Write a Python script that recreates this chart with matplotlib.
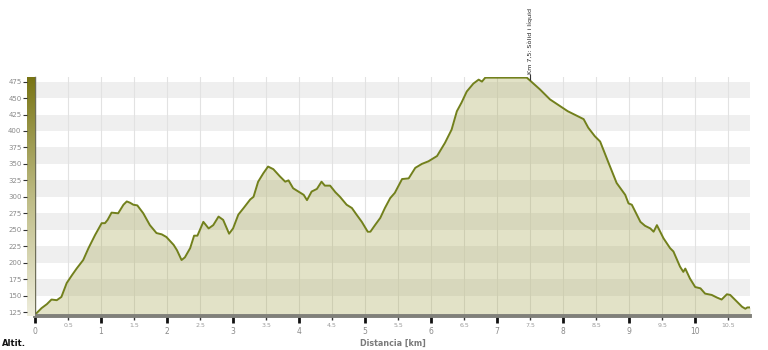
import matplotlib
matplotlib.use('Agg')
import matplotlib.pyplot as plt
import numpy as np
from matplotlib.colors import LinearSegmentedColormap
from matplotlib.ticker import MultipleLocator

# Elevation profile (km, m)
dist = [0.00, 0.10, 0.18, 0.25, 0.33, 0.40, 0.48, 0.56, 0.63, 0.73, 0.81, 0.91,
        1.01, 1.06, 1.10, 1.16, 1.26, 1.34, 1.39, 1.44, 1.49, 1.55, 1.64, 1.74,
        1.84, 1.92, 1.99, 2.10, 2.15, 2.22, 2.27, 2.35, 2.41, 2.46, 2.55, 2.63,
        2.70, 2.78, 2.85, 2.94, 3.00, 3.08, 3.16, 3.26, 3.31, 3.38, 3.46, 3.53,
        3.61, 3.71, 3.79, 3.84, 3.91, 3.99, 4.07, 4.12, 4.19, 4.27, 4.34, 4.39,
        4.47, 4.55, 4.62, 4.72, 4.80, 4.87, 4.95, 5.04, 5.08, 5.15, 5.23, 5.30,
        5.38, 5.45, 5.56, 5.66, 5.76, 5.86, 5.96, 6.09, 6.21, 6.31, 6.39, 6.46,
        6.54, 6.64, 6.72, 6.77, 6.82, 7.45, 7.65, 7.80, 8.07, 8.31, 8.38, 8.48,
        8.56, 8.69, 8.81, 8.94, 8.99, 9.04, 9.17, 9.24, 9.32, 9.37, 9.42, 9.52,
        9.62, 9.67, 9.77, 9.82, 9.85, 9.92, 10.00, 10.08, 10.15, 10.25, 10.33,
        10.40, 10.48, 10.53, 10.61, 10.71, 10.76, 10.79, 10.83]
alt = [121, 131, 137, 144, 143, 148, 169, 181, 191, 204, 222, 242,
       260, 260, 265, 276, 275, 288, 293, 291, 288, 287, 275, 257,
       245, 243, 239, 227, 219, 204, 208, 222, 241, 241, 262, 252,
       257, 270, 265, 244, 252, 273, 283, 296, 300, 323, 336, 346,
       342, 331, 323, 325, 313, 308, 303, 295, 308, 312, 323, 317,
       317, 307, 300, 288, 283, 273, 262, 247, 247, 257, 268, 283,
       298, 306, 327, 328, 344, 350, 354, 362, 382, 402, 430, 443,
       460, 472, 478, 475, 481, 481, 463, 448, 430, 418, 405, 392,
       384, 351, 321, 303, 290, 288, 262, 256, 252, 247, 257, 237,
       222, 217, 194, 186, 191, 176, 163, 161, 153, 151, 147,
       144, 152, 151, 143, 133, 130, 132, 132]

y_ticks = list(range(125, 476, 25))
note_km = 7.5
note_text = 'Km 7,5: Sòlid i líquid'

ymin, ymax = 119, 482
xmax = 10.83

fig = plt.figure(figsize=(7.68, 3.5), dpi=100)
ax = fig.add_axes([35 / 768, 34 / 350, 715 / 768, 239 / 350])

# alternating grey bands
for lo in range(150, 476, 50):
    ax.axhspan(lo, lo + 25, color='#efefef', lw=0, zorder=0)

ax.set_xlim(0, xmax)
ax.set_ylim(ymin, ymax)

ax.xaxis.set_major_locator(MultipleLocator(1))
ax.grid(True, which='both', axis='x', color='#e2e2e2', lw=0.8, zorder=0.5)
ax.set_axisbelow(True)

ax.fill_between(dist, alt, ymin, color='#a2a248', alpha=0.3, lw=0, zorder=1)
ax.plot(dist, alt, color='#72801c', lw=1.4, zorder=2)

for s in ['top', 'right']:
    ax.spines[s].set_visible(False)
ax.spines['left'].set_color('#6e6e58')
ax.spines['left'].set_linewidth(1)
ax.spines['bottom'].set_color('#80807a')
ax.spines['bottom'].set_linewidth(2.8)

ax.set_yticks([])
ax.tick_params(axis='x', which='major', length=5, width=2, color='#111111',
               labelsize=5.5, labelcolor='#8a8a8a', pad=3)
ax.tick_params(axis='x', which='minor', length=3, width=1, color='#333333',
               labelsize=4.5, labelcolor='#9a9a9a', pad=2)
ax.set_xticklabels([f'{v:g}' for v in ax.get_xticks()])
minor = np.arange(0.5, xmax, 1.0)
ax.set_xticks(minor, minor=True)
ax.set_xticklabels([f'{v:g}' for v in minor], minor=True)
ax.set_xlim(0, xmax)

ax.set_xlabel('Distancia [km]', fontsize=5.8, color='#7a7a7a',
              fontweight='bold', labelpad=2)

# gradient bar on the left with the altitude ticks
bar = fig.add_axes([27 / 768, 34 / 350, 8 / 768, 239 / 350])
cmap = LinearSegmentedColormap.from_list(
    'olive', [(0, '#eeeddc'), (0.5, '#bdbb84'), (1, '#787414')])
grad = np.linspace(0, 1, 256).reshape(-1, 1)
bar.imshow(grad, aspect='auto', cmap=cmap, origin='lower',
           extent=[0, 1, ymin, ymax])
bar.set_ylim(ymin, ymax)
bar.set_xticks([])
bar.set_yticks(y_ticks)
bar.tick_params(axis='y', length=3, width=0.8, color='#333333',
                labelsize=5, labelcolor='#8a8a8a', pad=1)
for s in bar.spines.values():
    s.set_visible(False)

# waypoint note
ax.annotate(note_text, xy=(note_km, 1.0), xycoords=('data', 'axes fraction'),
            xytext=(0, 2), textcoords='offset points', rotation=90,
            ha='center', va='bottom', fontsize=4.6, color='#222222',
            annotation_clip=False)
ax.plot([note_km], [1.0], marker='|', ms=4, color='#333333', mew=0.8,
        transform=ax.get_xaxis_transform(), clip_on=False, zorder=3)

fig.text(2 / 768, 1 - 344 / 350, 'Altit.', fontsize=6, fontweight='bold',
         color='#111111', va='center')

fig.savefig('out.png', dpi=100)
